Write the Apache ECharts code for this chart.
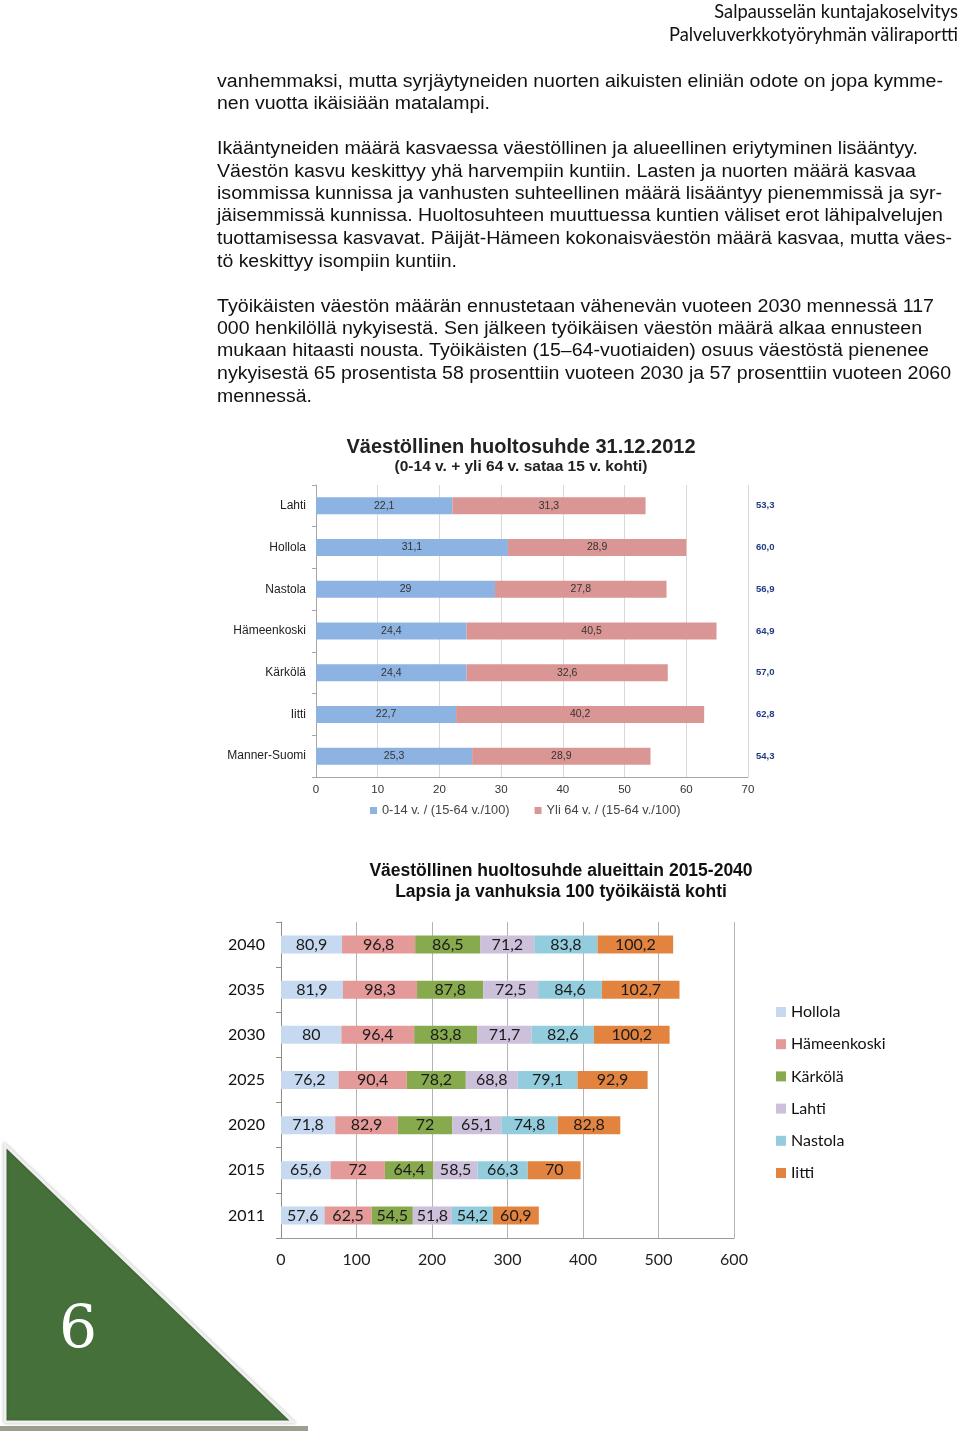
<!DOCTYPE html>
<html>
<head>
<meta charset="utf-8">
<script src="https://cdn.jsdelivr.net/npm/echarts@6/dist/echarts.min.js"></script>
<style>
html,body{margin:0;padding:0;background:#fff;}
#page{position:relative;width:960px;height:1433px;overflow:hidden;}
#chart{position:absolute;left:0;top:0;width:960px;height:1433px;}
.hdr{position:absolute;right:2px;font-family:Lato,"Open Sans",sans-serif;font-size:18.3px;color:#111;white-space:nowrap;line-height:20px;}
.ln{position:absolute;left:217px;font-family:"Liberation Sans",Arial,sans-serif;font-size:18px;color:#111;white-space:nowrap;line-height:22px;transform-origin:0 50%;}
</style>
</head>
<body>
<div id="page">
<div id="chart"></div>
<div class="hdr" style="top:1px">Salpausselän kuntajakoselvitys</div>
<div class="hdr" style="top:24px">Palveluverkkotyöryhmän väliraportti</div>
<div id="text"></div>
</div>
<script>
// ---------- Body text ----------
const bodyLines = [
  "vanhemmaksi, mutta syrjäytyneiden nuorten aikuisten eliniän odote on jopa kymme-",
  "nen vuotta ikäisiään matalampi.",
  "Ikääntyneiden määrä kasvaessa väestöllinen ja alueellinen eriytyminen lisääntyy.",
  "Väestön kasvu keskittyy yhä harvempiin kuntiin. Lasten ja nuorten määrä kasvaa",
  "isommissa kunnissa ja vanhusten suhteellinen määrä lisääntyy pienemmissä ja syr-",
  "jäisemmissä kunnissa. Huoltosuhteen muuttuessa kuntien väliset erot lähipalvelujen",
  "tuottamisessa kasvavat. Päijät-Hämeen kokonaisväestön määrä kasvaa, mutta väes-",
  "tö keskittyy isompiin kuntiin.",
  "Työikäisten väestön määrän ennustetaan vähenevän vuoteen 2030 mennessä 117",
  "000 henkilöllä nykyisestä. Sen jälkeen työikäisen väestön määrä alkaa ennusteen",
  "mukaan hitaasti nousta. Työikäisten (15–64-vuotiaiden) osuus väestöstä pienenee",
  "nykyisestä 65 prosentista 58 prosenttiin vuoteen 2030 ja 57 prosenttiin vuoteen 2060",
  "mennessä."
];
const lineCenters = [81,103,148,171,193,215,238,261,306,328,350,373,396];
const lineRights  = [943,490,918,916,942,943,952,457,934,922,929,951,312];
const textBox = document.getElementById('text');
bodyLines.forEach((t,i)=>{
  const d=document.createElement('div');
  d.className='ln'; d.textContent=t; d.style.top=(lineCenters[i]-11)+'px';
  textBox.appendChild(d);
  const w=d.getBoundingClientRect().width;
  const target=lineRights[i]-217;
  d.style.transform='scaleX('+(target/w).toFixed(4)+')';
});

// ---------- Chart 1 data ----------
const c1Categories = ["Lahti","Hollola","Nastola","Hämeenkoski","Kärkölä","Iitti","Manner-Suomi"];
const c1Children   = [22.1,31.1,29,24.4,24.4,22.7,25.3];
const c1Elderly    = [31.3,28.9,27.8,40.5,32.6,40.2,28.9];
const c1Totals     = ["53,3","60,0","56,9","64,9","57,0","62,8","54,3"];
const c1SeriesNames= ["0-14 v. / (15-64 v./100)","Yli 64 v. / (15-64 v./100)"];
const c1Ticks      = [0,10,20,30,40,50,60,70];

// ---------- Chart 2 data ----------
const c2Years = ["2040","2035","2030","2025","2020","2015","2011"];
const c2Names = ["Hollola","Hämeenkoski","Kärkölä","Lahti","Nastola","Iitti"];
const c2Hollola     = [80.9,81.9,80,76.2,71.8,65.6,57.6];
const c2Hameenkoski = [96.8,98.3,96.4,90.4,82.9,72,62.5];
const c2Karkola     = [86.5,87.8,83.8,78.2,72,64.4,54.5];
const c2Lahti       = [71.2,72.5,71.7,68.8,65.1,58.5,51.8];
const c2Nastola     = [83.8,84.6,82.6,79.1,74.8,66.3,54.2];
const c2Iitti       = [100.2,102.7,100.2,92.9,82.8,70,60.9];
const c2Ticks = [0,100,200,300,400,500,600];

const fmt = v => String(v).replace('.',',');
const arial = '"Liberation Sans", Arial, sans-serif';
const cal = 'Lato, "Open Sans", sans-serif';

const c1Colors = ['#8db3e2','#da9694'];
const c2Colors = ['#c6d9f0','#e39a98','#88aa4e','#ccc0da','#93cddd','#e2843f'];
const c2Data = [c2Hollola,c2Hameenkoski,c2Karkola,c2Lahti,c2Nastola,c2Iitti];

const chart = echarts.init(document.getElementById('chart'), null, {renderer:'canvas'});

const series = [];
[c1Children,c1Elderly].forEach((arr,i)=>{
  series.push({
    name:c1SeriesNames[i], type:'bar', stack:'c1', xAxisIndex:0, yAxisIndex:0,
    barWidth:17, data:arr, itemStyle:{color:c1Colors[i]},
    label:{show:true, position:'inside', fontFamily:arial, fontSize:10.5, color:'#333',
      formatter:p=>fmt(p.value)}
  });
});
c2Data.forEach((arr,i)=>{
  series.push({
    name:c2Names[i], type:'bar', stack:'c2', xAxisIndex:1, yAxisIndex:2,
    barWidth:18, data:arr, itemStyle:{color:c2Colors[i]},
    label:{show:true, position:'inside', fontFamily:cal, fontSize:16, color:'#1a1a1a',
      formatter:p=>fmt(p.value)}
  });
});

chart.setOption({
  animation:false,
  backgroundColor:'transparent',
  title:[
    {text:'Väestöllinen huoltosuhde 31.12.2012', subtext:'(0-14 v. + yli 64 v. sataa 15 v. kohti)',
     left:521, top:437, textAlign:'center', itemGap:2, padding:0,
     textStyle:{fontFamily:arial, fontSize:20, fontWeight:'bold', color:'#222'},
     subtextStyle:{fontFamily:arial, fontSize:15.5, fontWeight:'bold', color:'#222'}},
    {text:'Väestöllinen huoltosuhde alueittain 2015-2040\nLapsia ja vanhuksia 100 työikäistä kohti',
     left:561, top:861, textAlign:'center', padding:0,
     textStyle:{fontFamily:arial, fontSize:17.5, fontWeight:'bold', color:'#111', lineHeight:21}}
  ],
  legend:[
    {data:c1SeriesNames, left:370, top:804, icon:'rect', itemWidth:7, itemHeight:7, itemGap:25,
     textStyle:{fontFamily:arial, fontSize:12.8, color:'#444'}, padding:0},
    {data:c2Names, orient:'vertical', left:776, top:1004, icon:'rect', itemWidth:10, itemHeight:10, itemGap:16.2,
     textStyle:{fontFamily:cal, fontSize:16, color:'#111', lineHeight:16}, padding:0}
  ],
  grid:[
    {left:316, top:485, width:432, height:292, containLabel:false},
    {left:281, top:922, width:453, height:316, containLabel:false}
  ],
  xAxis:[
    {gridIndex:0, type:'value', min:c1Ticks[0], max:c1Ticks[c1Ticks.length-1], interval:10,
     axisLine:{show:true, lineStyle:{color:'#a6a6a6'}}, axisTick:{show:false},
     splitLine:{show:true, lineStyle:{color:'#d9d9d9'}},
     axisLabel:{fontFamily:arial, fontSize:11.5, color:'#333', margin:7}},
    {gridIndex:1, type:'value', min:c2Ticks[0], max:c2Ticks[c2Ticks.length-1], interval:100,
     axisLine:{show:true, lineStyle:{color:'#9a9a9a'}}, axisTick:{show:false},
     splitLine:{show:true, lineStyle:{color:'#b3b3b3'}},
     axisLabel:{fontFamily:cal, fontSize:16, color:'#222', margin:14}}
  ],
  yAxis:[
    {gridIndex:0, type:'category', data:c1Categories, inverse:true,
     axisLine:{show:true, lineStyle:{color:'#a6a6a6'}},
     axisTick:{show:true, length:4, lineStyle:{color:'#a6a6a6'}},
     axisLabel:{fontFamily:arial, fontSize:12, color:'#222', margin:10}},
    {gridIndex:0, type:'category', data:c1Totals, inverse:true, position:'right',
     axisLine:{show:false}, axisTick:{show:false},
     axisLabel:{fontFamily:arial, fontSize:9.5, fontWeight:'bold', color:'#1f3b82', margin:8, align:'left'}},
    {gridIndex:1, type:'category', data:c2Years, inverse:true,
     axisLine:{show:true, lineStyle:{color:'#8c8c8c'}},
     axisTick:{show:true, length:5, lineStyle:{color:'#8c8c8c'}},
     axisLabel:{fontFamily:cal, fontSize:16, color:'#111', margin:16}}
  ],
  series:series,
  graphic:[
    {type:'rect', shape:{x:0, y:1426, width:308, height:5}, style:{fill:'#9e9e90'}, z:1},
    {type:'polygon', shape:{points:[[5,1145],[5,1422],[293,1422]]},
     style:{fill:'#46703a', stroke:'#f0f0f0', lineWidth:3, shadowBlur:3, shadowColor:'rgba(0,0,0,0.25)'}, z:2},
    {type:'text', x:78, y:1332, z:3,
     style:{text:'6', fill:'#fff', font:'60px "DejaVu Serif", "Liberation Serif", serif', textAlign:'center', textVerticalAlign:'middle'}}
  ]
});
</script>
</body>
</html>
